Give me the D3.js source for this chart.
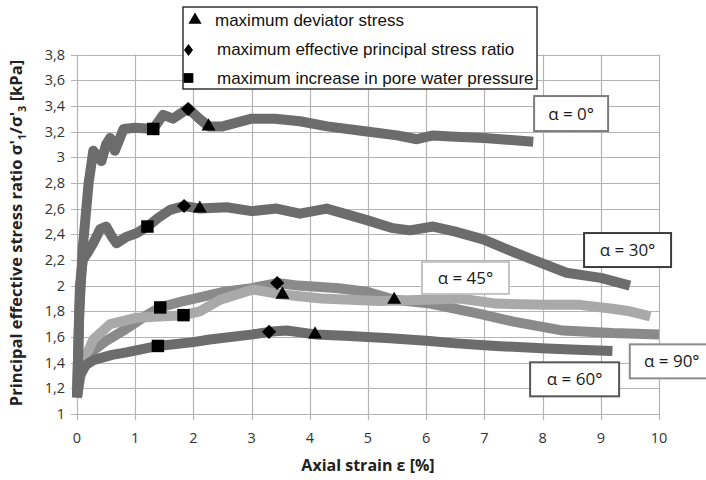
<!DOCTYPE html>
<html>
<head>
<meta charset="utf-8">
<script src="https://cdn.jsdelivr.net/npm/d3@7"></script>
<style>
    body { margin: 0; background: #fff; }
</style>
</head>
<body>
<div id="chart"></div>
<script>
// tick values
var x_ticks = [0, 1, 2, 3, 4, 5, 6, 7, 8, 9, 10];
var y_ticks = [1, 1.2, 1.4, 1.6, 1.8, 2, 2.2, 2.4, 2.6, 2.8, 3, 3.2, 3.4, 3.6, 3.8];

// curves, [axial strain %, stress ratio]
var curve_0 = [[0,1.13],[0.04,1.8],[0.1,2.3],[0.2,2.8],[0.28,3.05],[0.42,2.97],[0.5,3.1],[0.57,3.15],
    [0.65,3.05],[0.8,3.22],[1.0,3.23],[1.31,3.22],[1.48,3.33],[1.65,3.3],[1.91,3.38],[2.1,3.3],
    [2.26,3.24],[2.5,3.24],[3.0,3.3],[3.4,3.3],[3.83,3.28],[4.3,3.24],[4.98,3.2],[5.5,3.17],
    [5.84,3.14],[6.12,3.17],[6.5,3.16],[7.0,3.15],[7.84,3.12]];
var curve_30 = [[0,1.13],[0.05,2.0],[0.1,2.2],[0.2,2.27],[0.3,2.35],[0.4,2.44],[0.5,2.46],[0.6,2.38],
    [0.68,2.33],[0.85,2.38],[1.03,2.41],[1.21,2.46],[1.4,2.53],[1.6,2.59],[1.84,2.62],[2.11,2.6],
    [2.57,2.61],[3.0,2.58],[3.43,2.6],[3.83,2.56],[4.29,2.6],[4.98,2.51],[5.4,2.45],[5.72,2.43],
    [6.12,2.46],[6.5,2.42],[6.98,2.36],[7.4,2.28],[7.84,2.2],[8.41,2.1],[9.0,2.06],[9.5,2.0]];
var curve_45 = [[0,1.13],[0.1,1.4],[0.28,1.58],[0.57,1.7],[1.03,1.75],[1.43,1.76],[1.83,1.77],
    [2.11,1.8],[2.46,1.89],[3.02,1.97],[3.53,1.93],[4.2,1.9],[5.2,1.88],[6.0,1.89],[6.58,1.9],
    [7.2,1.86],[8.0,1.85],[8.64,1.85],[9.2,1.82],[9.5,1.8],[9.85,1.76]];
var curve_60 = [[0,1.13],[0.05,1.3],[0.15,1.38],[0.28,1.42],[0.6,1.46],[0.85,1.48],[1.39,1.53],
    [2.0,1.56],[2.28,1.58],[3.02,1.62],[3.3,1.64],[3.6,1.65],[4.09,1.62],[4.6,1.61],[5.38,1.59],
    [6.0,1.57],[6.52,1.55],[7.2,1.53],[8.07,1.51],[8.6,1.5],[9.2,1.49]];
var curve_90 = [[0,1.13],[0.05,1.33],[0.12,1.42],[0.3,1.5],[0.5,1.57],[0.8,1.65],[1.0,1.71],
    [1.2,1.77],[1.43,1.83],[1.83,1.88],[2.5,1.95],[3.0,1.98],[3.44,2.02],[3.8,2.0],[4.5,1.98],
    [5.0,1.95],[5.45,1.89],[6.07,1.86],[6.92,1.78],[7.5,1.72],[8.35,1.65],[9.2,1.63],[10.0,1.62]];

// markers
var max_deviator = [[2.26,3.24],[2.11,2.6],[3.53,1.93],[4.09,1.62],[5.45,1.89]];
var max_ratio = [[1.91,3.375],[1.84,2.62],[3.44,2.02],[3.3,1.64]];
var max_pore = [[1.31,3.22],[1.21,2.46],[1.43,1.83],[1.83,1.77],[1.39,1.53]];

// series labels and where they sit (data units)
var label_text = ['α = 0°', 'α = 30°', 'α = 45°', 'α = 60°', 'α = 90°'];
var label_x = [8.49, 9.46, 6.675, 8.55, 10.22];
var label_y = [3.34, 2.277, 2.06, 1.27, 1.41];

var chart_width  = 706;
var chart_height = 480;

var svg = d3.select( '#chart' )
    .append( 'svg' )
    .attr( 'width', chart_width )
    .attr( 'height', chart_height );

var x_scale = d3.scaleLinear()
    .domain([0, 10])
    .range([77, 659]);

var y_scale = d3.scaleLinear()
    .domain([1, 3.8])
    .range([414, 54.5]);

// grid
svg.selectAll( '.hgrid' )
    .data( y_ticks )
    .enter()
    .append( 'line' )
    .attr( 'x1', 71 )
    .attr( 'x2', x_scale(10) )
    .attr( 'y1', function(d){ return Math.round(y_scale(d)) + 0.5; })
    .attr( 'y2', function(d){ return Math.round(y_scale(d)) + 0.5; })
    .attr( 'stroke', '#b4b4b4' )
    .attr( 'stroke-width', 1.2 );

svg.selectAll( '.vgrid' )
    .data( x_ticks )
    .enter()
    .append( 'line' )
    .attr( 'x1', function(d){ return Math.round(x_scale(d)) + 0.5; })
    .attr( 'x2', function(d){ return Math.round(x_scale(d)) + 0.5; })
    .attr( 'y1', y_scale(3.8) )
    .attr( 'y2', 420 )
    .attr( 'stroke', '#b4b4b4' )
    .attr( 'stroke-width', 1.2 );

// tick labels
svg.selectAll( '.ylab' )
    .data( y_ticks )
    .enter()
    .append( 'text' )
    .text(function(d){
        return String(Math.round(d * 10) / 10).replace('.', ',');
    })
    .attr( 'x', 65 )
    .attr( 'y', function(d){ return y_scale(d) + 5; })
    .attr( 'text-anchor', 'end' )
    .attr( 'font-family', 'Open Sans, sans-serif' )
    .attr( 'font-size', 14.5 )
    .attr( 'fill', '#333' );

svg.selectAll( '.xlab' )
    .data( x_ticks )
    .enter()
    .append( 'text' )
    .text(function(d){ return d; })
    .attr( 'x', function(d){ return x_scale(d); })
    .attr( 'y', 443 )
    .attr( 'text-anchor', 'middle' )
    .attr( 'font-family', 'Open Sans, sans-serif' )
    .attr( 'font-size', 14.5 )
    .attr( 'fill', '#333' );

// axis titles
svg.append( 'text' )
    .text( 'Axial strain ε [%]' )
    .attr( 'x', 368 )
    .attr( 'y', 471 )
    .attr( 'text-anchor', 'middle' )
    .attr( 'font-family', 'Open Sans, sans-serif' )
    .attr( 'font-weight', 'bold' )
    .attr( 'font-size', 16 )
    .attr( 'fill', '#222' );

var ytitle = svg.append( 'text' )
    .attr( 'transform', 'translate(22,233) rotate(-90)' )
    .attr( 'text-anchor', 'middle' )
    .attr( 'font-family', 'Open Sans, sans-serif' )
    .attr( 'font-weight', 'bold' )
    .attr( 'font-size', 16.5 )
    .attr( 'fill', '#222' );
ytitle.append( 'tspan' ).text( "Principal effective stress ratio σ'" );
ytitle.append( 'tspan' ).text( '1' ).attr( 'font-size', 11 ).attr( 'dy', 4 );
ytitle.append( 'tspan' ).text( "/σ'" ).attr( 'dy', -4 );
ytitle.append( 'tspan' ).text( '3' ).attr( 'font-size', 11 ).attr( 'dy', 4 );
ytitle.append( 'tspan' ).text( ' [kPa]' ).attr( 'dy', -4 );

// curves
var line = d3.line()
    .x(function(d){ return x_scale(d[0]); })
    .y(function(d){ return y_scale(d[1]); });

var curves = [
    {data: curve_90, color: '#8a8a8a'},
    {data: curve_45, color: '#a9a9a9'},
    {data: curve_60, color: '#6c6c6c'},
    {data: curve_30, color: '#6c6c6c'},
    {data: curve_0,  color: '#6c6c6c'}
];

svg.selectAll( '.curve' )
    .data( curves )
    .enter()
    .append( 'path' )
    .attr( 'd', function(d){ return line(d.data); })
    .attr( 'fill', 'none' )
    .attr( 'stroke', function(d){ return d.color; })
    .attr( 'stroke-width', 10 )
    .attr( 'stroke-linejoin', 'round' );

// markers
var tri = d3.symbol().type(d3.symbolTriangle).size(85);
var sq = d3.symbol().type(d3.symbolSquare).size(155);
var dia = d3.symbol().type(d3.symbolSquare).size(100);

svg.selectAll( '.m_pore' )
    .data( max_pore )
    .enter()
    .append( 'path' )
    .attr( 'd', sq )
    .attr( 'transform', function(d){
        return 'translate(' + x_scale(d[0]) + ',' + y_scale(d[1]) + ')';
    })
    .attr( 'fill', '#000' );

svg.selectAll( '.m_ratio' )
    .data( max_ratio )
    .enter()
    .append( 'path' )
    .attr( 'd', dia )
    .attr( 'transform', function(d){
        return 'translate(' + x_scale(d[0]) + ',' + y_scale(d[1]) + ') rotate(45)';
    })
    .attr( 'fill', '#000' );

svg.selectAll( '.m_dev' )
    .data( max_deviator )
    .enter()
    .append( 'path' )
    .attr( 'd', tri )
    .attr( 'transform', function(d){
        return 'translate(' + x_scale(d[0]) + ',' + y_scale(d[1]) + ')';
    })
    .attr( 'fill', '#000' );

// series label boxes
var box_w = [74, 87, 87, 89, 84];
var box_h = [35, 34, 32, 34, 34];
var box_stroke = ['#7c7c7c', '#3c3c3c', '#c4c4c4', '#555555', '#8c8c8c'];

var labels = svg.selectAll( '.lbl' )
    .data( label_text )
    .enter()
    .append( 'g' )
    .attr( 'transform', function(d, i){
        return 'translate(' + x_scale(label_x[i]) + ',' + y_scale(label_y[i]) + ')';
    });

labels.append( 'rect' )
    .attr( 'x', function(d, i){ return -box_w[i] / 2; })
    .attr( 'y', function(d, i){ return -box_h[i] / 2; })
    .attr( 'width', function(d, i){ return box_w[i]; })
    .attr( 'height', function(d, i){ return box_h[i]; })
    .attr( 'fill', '#fff' )
    .attr( 'stroke', function(d, i){ return box_stroke[i]; })
    .attr( 'stroke-width', 2 );

labels.append( 'text' )
    .text(function(d){ return d; })
    .attr( 'y', 6 )
    .attr( 'text-anchor', 'middle' )
    .attr( 'font-family', 'Open Sans, sans-serif' )
    .attr( 'font-size', 17 )
    .attr( 'fill', '#1a1a1a' );

// legend
var legend_items = ['maximum deviator stress', 'maximum effective principal stress ratio', 'maximum increase in pore water pressure'];

svg.append( 'rect' )
    .attr( 'x', 183 )
    .attr( 'y', 7 )
    .attr( 'width', 354 )
    .attr( 'height', 82 )
    .attr( 'fill', '#fff' )
    .attr( 'stroke', '#333' )
    .attr( 'stroke-width', 1.5 );

var leg = svg.selectAll( '.leg' )
    .data( legend_items )
    .enter()
    .append( 'g' )
    .attr( 'transform', function(d, i){
        return 'translate(0,' + (20 + i * 29) + ')';
    });

leg.append( 'text' )
    .text(function(d){ return d; })
    .attr( 'x', function(d, i){ return i == 0 ? 215 : 217; })
    .attr( 'y', 6 )
    .attr( 'font-family', 'Liberation Sans, Arial, sans-serif' )
    .attr( 'font-size', 17 )
    .attr( 'fill', '#111' );

leg.filter(function(d, i){ return i == 0; })
    .append( 'path' )
    .attr( 'd', d3.symbol().type(d3.symbolTriangle).size(75) )
    .attr( 'transform', 'translate(195,0)' );

leg.filter(function(d, i){ return i == 1; })
    .append( 'path' )
    .attr( 'd', 'M0,-6L4.5,0L0,6L-4.5,0Z' )
    .attr( 'transform', 'translate(188.5,1)' );

leg.filter(function(d, i){ return i == 2; })
    .append( 'path' )
    .attr( 'd', d3.symbol().type(d3.symbolSquare).size(95) )
    .attr( 'transform', 'translate(188.5,0)' );
</script>
</body>
</html>
